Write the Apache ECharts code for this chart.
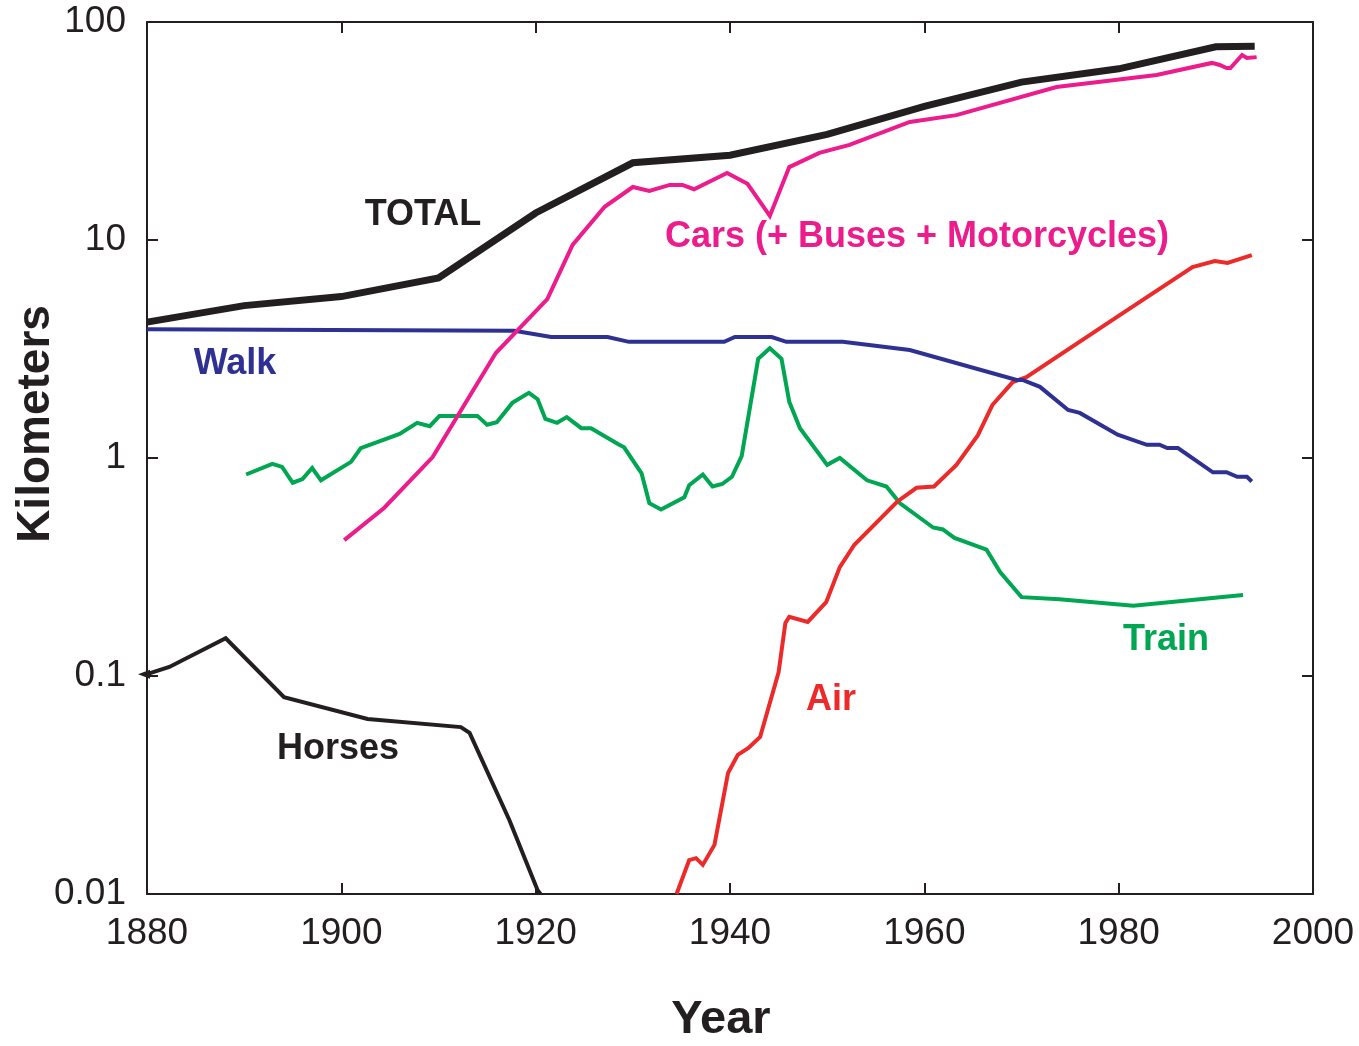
<!DOCTYPE html>
<html>
<head>
<meta charset="utf-8">
<script src="https://cdn.jsdelivr.net/npm/echarts@6/dist/echarts.min.js"></script>
<style>
html,body{margin:0;padding:0;background:#fff;}
#main{width:1359px;height:1046px;}
</style>
</head>
<body>
<div id="main"></div>
<script>
// 各交通方式人均每日出行距离 (km), 数据读自原图
var xTicks = [1880, 1900, 1920, 1940, 1960, 1980, 2000];
var yTicks = [0.01, 0.1, 1, 10, 100];

var totalData = [[1880,4.2],[1890,5.0],[1900,5.5],[1910,6.7],[1920,13.3],[1930,22.6],[1940,24.5],
    [1950,30.5],[1960,41],[1970,53],[1980,61],[1990,77],[1994,77.5]];

var carsData = [[1900.3,0.42],[1904.4,0.59],[1909.4,1.01],[1915.9,3.03],[1921.2,5.36],[1923.8,9.5],
    [1927.1,14.2],[1930,17.5],[1931.7,16.8],[1933.8,17.9],[1935.1,17.9],[1936.3,17.1],[1939.7,20.3],
    [1941.8,18.1],[1944.1,12.9],[1946.1,21.6],[1949.2,25.1],[1952.3,27.3],[1958.5,34.8],[1963.3,37.4],
    [1973.6,50.3],[1983.9,57.1],[1989.6,64.9],[1990.4,63.5],[1991.1,61.5],[1991.5,61.5],[1992.7,70.6],
    [1993.2,68.4],[1994.2,69]];

var walkData = [[1880,3.9],[1917.8,3.83],[1921.6,3.59],[1927.4,3.59],[1929.6,3.41],[1939.4,3.41],
    [1940.5,3.59],[1944.3,3.59],[1945.8,3.41],[1951.6,3.41],[1958.5,3.13],[1969.5,2.28],[1970.1,2.28],
    [1971.9,2.12],[1974.8,1.66],[1976,1.61],[1979.9,1.28],[1982.9,1.15],[1984.2,1.15],[1985,1.11],
    [1986.1,1.11],[1989.7,0.86],[1991.1,0.86],[1992.2,0.82],[1993.2,0.82],[1993.7,0.78]];

var trainData = [[1890.2,0.84],[1892.9,0.94],[1893.9,0.91],[1895,0.77],[1896,0.8],[1897,0.9],[1897.9,0.79],
    [1901,0.96],[1902,1.11],[1906,1.29],[1907.8,1.45],[1909.1,1.4],[1910.1,1.56],[1914,1.56],[1915,1.42],
    [1916,1.46],[1917.6,1.79],[1919.3,1.99],[1920.2,1.86],[1921,1.51],[1922.2,1.45],[1923.2,1.54],
    [1924.7,1.37],[1925.7,1.37],[1928.6,1.15],[1929.1,1.12],[1930.9,0.85],[1931.7,0.62],[1932.9,0.58],
    [1935.3,0.66],[1935.8,0.75],[1937.2,0.84],[1938.2,0.74],[1939.2,0.76],[1940.2,0.82],[1941.2,1.02],
    [1942.9,2.85],[1944.1,3.19],[1945.3,2.85],[1946.1,1.81],[1947.2,1.37],[1950,0.93],[1951.3,1.0],
    [1954.1,0.79],[1956.1,0.74],[1957.5,0.62],[1960.9,0.48],[1961.9,0.47],[1963.1,0.43],[1966.4,0.38],
    [1967.8,0.3],[1970,0.23],[1973.9,0.225],[1981.5,0.21],[1992.8,0.235]];

var airData = [[1934.5,0.01],[1935.8,0.0143],[1936.5,0.0146],[1937.2,0.0136],[1938.4,0.0168],[1939.8,0.0359],
    [1940.8,0.0435],[1941.9,0.0468],[1943.1,0.0525],[1945,0.104],[1945.7,0.175],[1946.1,0.187],[1948,0.177],
    [1949.9,0.218],[1951.3,0.316],[1952.8,0.4],[1957.2,0.63],[1959.2,0.73],[1961,0.74],[1963.3,0.93],
    [1965.5,1.27],[1967,1.75],[1969.1,2.23],[1970.5,2.35],[1979.8,4.43],[1987.6,7.52],[1989.9,8.01],
    [1991.2,7.85],[1993.7,8.53]];

var horsesData = [[1880,0.102],[1882.3,0.11],[1888.1,0.149],[1894.1,0.08],[1902.7,0.0635],[1912.3,0.0583],
    [1913.2,0.0548],[1917.3,0.0218],[1920.2,0.0104],[1920.5,0.01]];

var FONT = '"Liberation Sans", Arial, Helvetica, sans-serif';
var INK = '#231f20';

function lineSeries(name, data, color, width){
    return {
        name: name,
        type: 'line',
        data: data,
        symbol: 'none',
        smooth: false,
        lineStyle: {color: color, width: width, join: 'miter'},
        animation: false
    };
}

function label(text, x, y, color, size, rot){
    return {
        type: 'text',
        x: x, y: y,
        rotation: rot || 0,
        style: {
            text: text,
            fill: color,
            font: 'bold ' + (size || 36) + 'px ' + FONT,
            textAlign: 'center',
            textVerticalAlign: 'middle',
            align: 'center',
            verticalAlign: 'middle'
        }
    };
}

// 马匹曲线起点处的小箭头
var horsesSeries = lineSeries('Horses', horsesData.map(function(p, i){
    if(i === 0){
        return {value: p, symbol: 'triangle', symbolSize: [9, 12], symbolRotate: 90, symbolOffset: [-3, 0]};
    }
    return {value: p, symbolSize: 0};
}), INK, 4);
horsesSeries.symbol = 'circle';
horsesSeries.showSymbol = true;
horsesSeries.itemStyle = {color: INK};

var axisLineStyle = {show: true, lineStyle: {color: INK, width: 2}};
var tickStyle = {show: true, inside: true, length: 11, lineStyle: {color: INK, width: 2}};

var myChart = echarts.init(document.getElementById('main'));
var option = {
    backgroundColor: '#fff',
    animation: false,
    grid: {left: 147, right: 46, top: 22, bottom: 152, containLabel: false},
    xAxis: [{
        type: 'value',
        min: xTicks[0], max: xTicks[xTicks.length - 1], interval: 20,
        position: 'bottom',
        axisLine: axisLineStyle,
        axisTick: tickStyle,
        splitLine: {show: false},
        axisLabel: {fontSize: 37, color: INK, fontFamily: FONT, margin: 21,
            formatter: function(v){ return String(v); }}
    }, {
        type: 'value',
        min: xTicks[0], max: xTicks[xTicks.length - 1], interval: 20,
        position: 'top',
        axisLine: axisLineStyle,
        axisTick: tickStyle,
        splitLine: {show: false},
        axisLabel: {show: false}
    }],
    yAxis: [{
        type: 'log',
        logBase: 10,
        min: yTicks[0], max: yTicks[yTicks.length - 1],
        position: 'left',
        axisLine: axisLineStyle,
        axisTick: tickStyle,
        minorTick: {show: false},
        splitLine: {show: false},
        axisLabel: {fontSize: 37, color: INK, fontFamily: FONT, margin: 21,
            formatter: function(v){ return String(+v.toPrecision(3)); }}
    }, {
        type: 'log',
        logBase: 10,
        min: yTicks[0], max: yTicks[yTicks.length - 1],
        position: 'right',
        axisLine: axisLineStyle,
        axisTick: tickStyle,
        splitLine: {show: false},
        axisLabel: {show: false}
    }],
    series: [
        horsesSeries,
        lineSeries('Train', trainData, '#00a651', 4),
        lineSeries('Air', airData, '#ed2a2a', 4),
        lineSeries('Walk', walkData, '#2e3192', 4),
        lineSeries('Cars', carsData, '#ec1c8d', 4),
        lineSeries('TOTAL', totalData, INK, 7)
    ],
    graphic: [
        label('TOTAL', 423, 215, INK),
        label('Cars (+ Buses + Motorcycles)', 917, 237, '#ec1c8d'),
        label('Walk', 235, 364, '#2e3192'),
        label('Train', 1166, 640, '#00a651'),
        label('Air', 831, 700, '#ed2a2a'),
        label('Horses', 338, 749, INK),
        // 坐标轴标题
        label('Kilometers', 36, 424, INK, 46, Math.PI / 2),
        label('Year', 721, 1020, INK, 47)
    ]
};
myChart.setOption(option);
</script>
</body>
</html>
